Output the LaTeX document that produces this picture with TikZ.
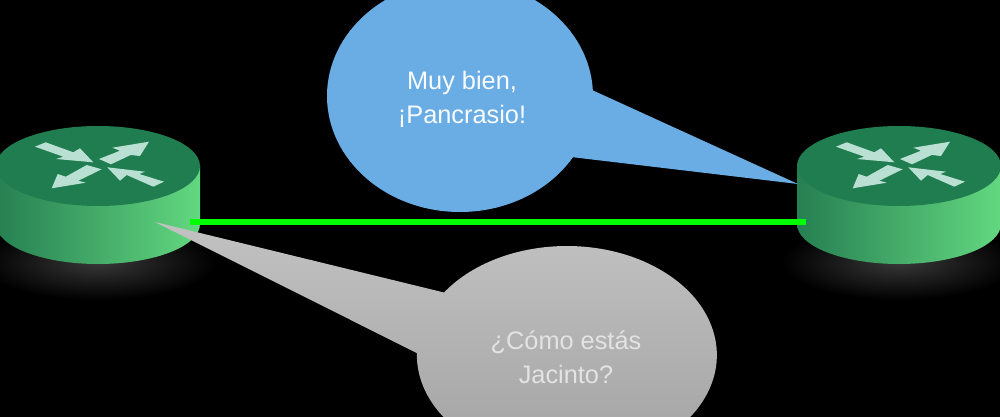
\documentclass[tikz,border=0pt]{standalone}
\usepackage{fontspec}
\setmainfont{Liberation Sans}
\definecolor{routertop}{HTML}{1F7D50}
\definecolor{routerdark}{HTML}{267F52}
\definecolor{routerlight}{HTML}{63D880}
\definecolor{routerglyph}{HTML}{B9E0D2}
\definecolor{glowgray}{HTML}{383838}
\definecolor{linkgreen}{HTML}{00FF00}
\definecolor{bubbleblue}{HTML}{69ADE4}
\tikzset{
  bubbletext/.style={align=center,font=\fontsize{19}{25.5}\selectfont},
  routerarrow/.style={fill=routerglyph,draw=none}
}
\begin{document}
\begin{tikzpicture}[x=0.75pt,y=0.75pt,yscale=-1,xscale=1]
\useasboundingbox (0,0) rectangle (1000,417);
\fill [black] (0,0) rectangle (1000,417);
\coordinate (routerL) at (98,166);
\coordinate (routerR) at (899,166);
\coordinate (portL) at (190,222);
\coordinate (portR) at (806,222);
\coordinate (bubbleB) at (460,96);
\coordinate (bubbleG) at (567,355);
%Shape: Routers
\foreach \r in {routerL,routerR}{
  \shade [inner color=glowgray,outer color=black] ([shift={(0,96)}]\r) ellipse [x radius=118,y radius=38];
  \shade [left color=routerdark,right color=routerlight] ([shift={(-102,0)}]\r) -- ([shift={(-102,58)}]\r) arc [start angle=180,end angle=0,x radius=102,y radius=40] -- ([shift={(102,0)}]\r) -- cycle;
  \fill [routertop] (\r) ellipse [x radius=102,y radius=40];
  \begin{scope}[shift={(\r)}]
    \fill [routerarrow] (-63,-19.3) -- (-52.3,-23.7) -- (-24.7,-13.7) -- (-18,-17.7) -- (-4.7,-3.7) -- (-42,-7) -- (-34.7,-9.3) -- cycle;
    \fill [routerarrow] (51,-24.3) -- (14.3,-18.3) -- (22,-15.3) -- (1,-7) -- (13,-1.7) -- (32.7,-11) -- (42,-10) -- cycle;
    \fill [routerarrow] (-46.3,22.3) -- (-40.3,8) -- (-32.3,10.7) -- (-11.3,-1) -- (3.7,3.3) -- (-19.7,14.7) -- (-12.3,16.7) -- cycle;
    \fill [routerarrow] (9.3,1.3) -- (47,5.7) -- (41.3,8) -- (66,15.7) -- (55.3,20.7) -- (28.7,9) -- (22,14.7) -- cycle;
  \end{scope}
}
%Straight Lines: link
\draw [linkgreen,line width=4.5] (portL) -- (portR);
%Shape: Blue bubble
\fill [bubbleblue] (bubbleB) ellipse [x radius=133,y radius=116];
\fill [bubbleblue] (592,90) -- (798,184) -- (571,157) -- cycle;
%Shape: Gray bubble
\shade [top color=black!24,bottom color=black!37] (155,222) -- (444,292.5) arc [start angle=215,end angle=541,x radius=150,y radius=109] -- cycle;
\node [bubbletext,text=white!96!bubbleblue] (textB) at (462,99) {Muy bien,\\¡Pancrasio!};
\node [bubbletext,text=black!11] (textG) at (566,357) {¿Cómo estás\\Jacinto?};
\end{tikzpicture}
\end{document}
